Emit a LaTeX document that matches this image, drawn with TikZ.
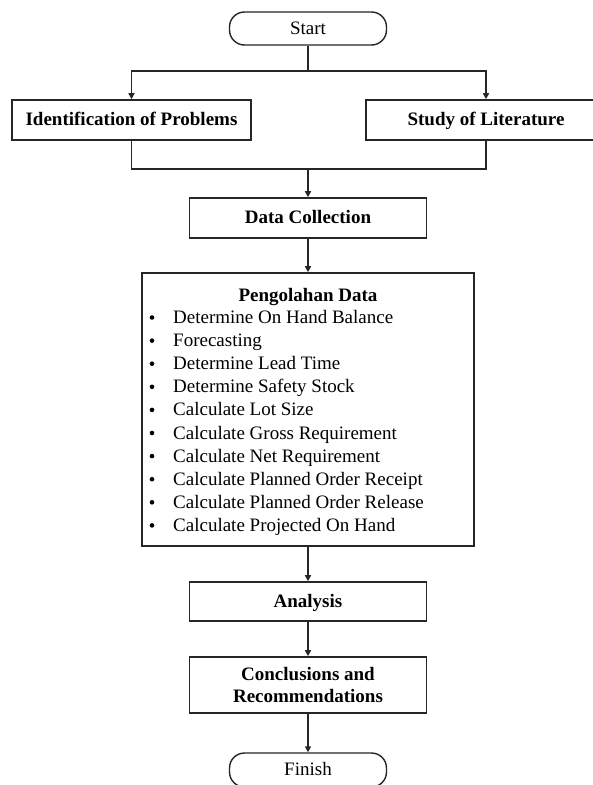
\documentclass[tikz,border=0pt]{standalone}
\usepackage{fontspec}
\setmainfont{Liberation Serif}
\usetikzlibrary{arrows.meta}
\tikzset{
  box/.style={draw=black!85, line width=1.6pt, minimum width=237pt, minimum height=40pt,
    inner sep=0pt, font=\fontsize{19}{22}\selectfont\bfseries, align=center},
  oneline/.style={text height=14.5pt, text depth=3pt},
  term/.style={draw=black!85, line width=1.4pt, rounded corners=15pt, minimum width=157pt,
    minimum height=33pt, inner sep=0pt, text height=14.5pt, text depth=3pt,
    font=\fontsize{19}{22}\selectfont},
  item/.style={anchor=base west, inner sep=0pt, font=\fontsize{19}{22}\selectfont},
  dot/.style={circle, fill=black, inner sep=0pt, minimum size=4.6pt},
  link/.style={draw=black!85, line width=1.6pt},
  flow/.style={link, -{Triangle[length=6pt,width=6pt]}},
}
\begin{document}
\begin{tikzpicture}[x=1pt, y=-1pt]
  \clip (0,0) rectangle (593,785);
  \fill[white] (0,0) rectangle (593,785);

  % terminals and process boxes
  \node[term] (start) at (308,28.5) {Start};
  \node[box, oneline, minimum width=239pt] (ident) at (131.5,120) {Identification of Problems};
  \node[box, oneline, minimum width=240pt] (study) at (486,120) {Study of Literature};
  \node[box, oneline] (collect) at (308,218) {Data Collection};
  \node[box, minimum width=332pt, minimum height=273pt] (proc) at (308,409.5) {};
  \node[box, oneline, minimum height=39pt] (analysis) at (308,601.5) {Analysis};
  \node[box, minimum height=56pt] (concl) at (308,685) {Conclusions and\\Recommendations};
  \node[term, minimum height=34pt] (finish) at (308,770) {Finish};

  % contents of the processing box
  \node[anchor=base, inner sep=0pt, font=\fontsize{19}{22}\selectfont\bfseries] (ptitle) at (308,301) {Pengolahan Data};
  \foreach \t [count=\i] in {Determine On Hand Balance, Forecasting, Determine Lead Time,
      Determine Safety Stock, Calculate Lot Size, Calculate Gross Requirement,
      Calculate Net Requirement, Calculate Planned Order Receipt,
      Calculate Planned Order Release, Calculate Projected On Hand} {
    \node[dot] (b\i) at (152,{317.5+(\i-1)*23.1}) {};
    \node[item] (t\i) at (173,{323.5+(\i-1)*23.1}) {\t};
  }

  % connectors
  \coordinate (split) at (308,71);
  \coordinate (merge) at (308,169);
  \draw[link] (start.south) -- (split);
  \draw[flow] (split) -| (ident.north);
  \draw[flow] (split) -| (study.north);
  \draw[link] (ident.south) |- (merge);
  \draw[link] (study.south) |- (merge);
  \draw[flow] (merge) -- (collect.north);
  \draw[flow] (collect.south) -- (proc.north);
  \draw[flow] (proc.south) -- (analysis.north);
  \draw[flow] (analysis.south) -- (concl.north);
  \draw[flow] (concl.south) -- (finish.north);
\end{tikzpicture}
\end{document}
